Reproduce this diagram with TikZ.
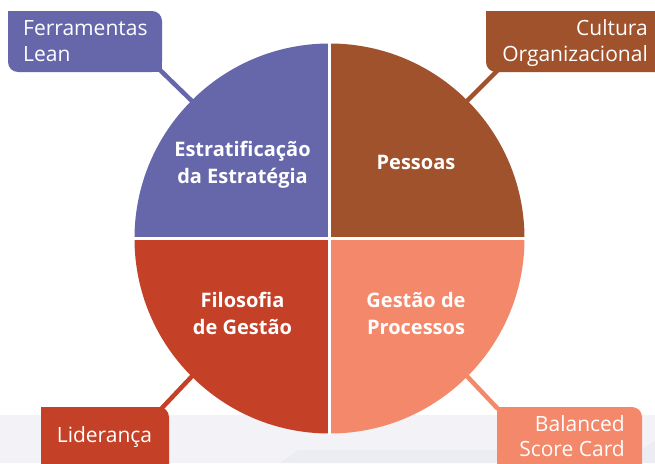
\documentclass[tikz,border=0pt]{standalone}
\usepackage{fontspec}
\setmainfont{Open Sans}
\definecolor{qpurple}{HTML}{6667AB}
\definecolor{qbrown}{HTML}{A0522D}
\definecolor{qred}{HTML}{C44127}
\definecolor{qsalmon}{HTML}{F3886A}
\definecolor{bandgray}{HTML}{F2F2F7}
\definecolor{banddark}{HTML}{ECECF3}
\tikzset{
  qtext/.style={text=white, font=\fontsize{20}{26}\selectfont\bfseries, inner sep=0pt, anchor=base},
  ltextw/.style={text=white, font=\fontsize{21}{26}\selectfont, inner sep=0pt, anchor=base west},
  ltexte/.style={text=white, font=\fontsize{21}{26}\selectfont, inner sep=0pt, anchor=base east},
  ltextc/.style={text=white, font=\fontsize{21}{26}\selectfont, inner sep=0pt, anchor=base},
  conn/.style={line width=4.5pt},
  labbox/.style={rounded corners=10pt},
}
\begin{document}
\begin{tikzpicture}[x=1pt,y=-1pt]
\useasboundingbox (0,0) rectangle (655,463);
\clip (0,0) rectangle (655,463);
\fill[white] (0,0) rectangle (655,463);
% background band
\fill[bandgray] (0,415) rectangle (655,463);
\fill[banddark] (280,463) -- (298,450) -- (640,450) -- (655,441) -- (655,463) -- cycle;

\coordinate (c) at (329.5,238.5);
% circle connection points (slightly inside the rim)
\coordinate (ptl) at (196,105);
\coordinate (ptr) at (463,105);
\coordinate (pbl) at (196,372);
\coordinate (pbr) at (463,372);
% box corners where connectors attach
\coordinate (btl) at (160,70);
\coordinate (btr) at (498,70);
\coordinate (bbl) at (161,409);
\coordinate (bbr) at (498,409);

% connectors
\draw[conn, qpurple] (btl) -- (ptl);
\draw[conn, qbrown] (btr) -- (ptr);
\draw[conn, qred] (bbl) -- (pbl);
\draw[conn, qsalmon] (bbr) -- (pbr);

% quadrants
\begin{scope}
  \clip (0,0) rectangle (c);
  \fill[qpurple] (c) circle[radius=195pt];
\end{scope}
\begin{scope}
  \clip (655,0) rectangle (c);
  \fill[qbrown] (c) circle[radius=195pt];
\end{scope}
\begin{scope}
  \clip (0,463) rectangle (c);
  \fill[qred] (c) circle[radius=195pt];
\end{scope}
\begin{scope}
  \clip (655,463) rectangle (c);
  \fill[qsalmon] (c) circle[radius=195pt];
\end{scope}
\begin{scope}
  \clip (c) circle[radius=196pt];
  \draw[white, line width=3pt] (329.5,30) -- (329.5,450);
  \draw[white, line width=3pt] (120,238.5) -- (540,238.5);
\end{scope}

% label boxes
\fill[qpurple, labbox] (8,11) rectangle (162,72);
\fill[qpurple] (8,11) rectangle (20,23);
\fill[qpurple] (150,60) rectangle (162,72);

\fill[qbrown, labbox] (486,11) rectangle (690,72);
\fill[qbrown] (486,11) rectangle (498,23);

\fill[qred, labbox] (41,407) rectangle (169,500);
\fill[qred] (41,407) rectangle (53,419);

\fill[qsalmon, labbox] (497,407) rectangle (642,500);
\fill[qsalmon] (497,407) rectangle (509,419);

% quadrant texts
\node[qtext] (q1a) at (242.5,156) {Estratificação};
\node[qtext] (q1b) at (242.5,183) {da Estratégia};
\node[qtext] (q2a) at (416,169.5) {Pessoas};
\node[qtext] (q3a) at (242.5,307.5) {Filosofia};
\node[qtext] (q3b) at (242.5,334) {de Gestão};
\node[qtext] (q4a) at (416,307.5) {Gestão de};
\node[qtext] (q4b) at (416,334) {Processos};

% label texts
\node[ltextw] (l1a) at (23,35) {Ferramentas};
\node[ltextw] (l1b) at (23,61) {Lean};
\node[ltexte] (l2a) at (648,35) {Cultura};
\node[ltexte] (l2b) at (648,61) {Organizacional};
\node[ltextc] (l3a) at (104.5,442) {Liderança};
\node[ltexte] (l4a) at (625,431) {Balanced};
\node[ltexte] (l4b) at (625,456) {Score Card};
\end{tikzpicture}
\end{document}
